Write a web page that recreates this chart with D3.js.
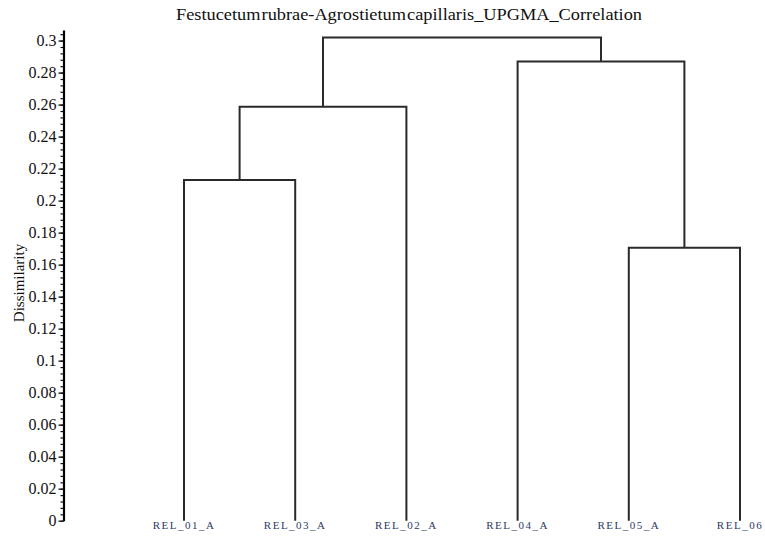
<!DOCTYPE html>
<html>
<head>
<meta charset="utf-8">
<script src="https://cdn.jsdelivr.net/npm/d3@7"></script>
<style>
  html, body { margin: 0; padding: 0; background: #fff; }
  svg { display: block; }
</style>
</head>
<body>
<svg id="chart" width="765" height="538"></svg>
<script>
// Leaves in dendrogram order
const leaves = ["REL_01_A", "REL_03_A", "REL_02_A", "REL_04_A", "REL_05_A", "REL_06"];

// UPGMA merges: node id, the two joined clusters, and the merge height
const mergeIds = ["c1", "c2", "c3", "c4", "c5"];
const mergeLeft = ["REL_01_A", "REL_05_A", "c1", "REL_04_A", "c3"];
const mergeRight = ["REL_03_A", "REL_06", "REL_02_A", "c2", "c4"];
const mergeHeights = [0.2129, 0.1706, 0.2586, 0.2869, 0.3019];

// Axis tick values
const majorTicks = [0, 0.02, 0.04, 0.06, 0.08, 0.1, 0.12, 0.14, 0.16, 0.18, 0.2, 0.22, 0.24, 0.26, 0.28, 0.3];

const title = "Festucetum rubrae-Agrostietum capillaris_UPGMA_Correlation";
const yTitle = "Dissimilarity";

const SERIF = "'Liberation Serif', 'DejaVu Serif', serif";

const svg = d3.select("#chart");

const x = d3.scalePoint().domain(leaves).range([184, 740]);
const y = d3.scaleLinear().domain([0, 0.3066]).range([520.7, 30]);

// Node positions: leaves sit at height 0; each merge sits over the midpoint of its children
const pos = {};
leaves.forEach(l => { pos[l] = { x: x(l), h: 0 }; });
mergeIds.forEach((id, i) => {
  const a = pos[mergeLeft[i]], b = pos[mergeRight[i]];
  pos[id] = { x: (a.x + b.x) / 2, h: mergeHeights[i] };
});

// Title
svg.append("text")
  .attr("x", 176).attr("y", 20)
  .attr("textLength", 466)
  .attr("lengthAdjust", "spacingAndGlyphs")
  .style("font-family", SERIF)
  .style("font-size", "16px")
  .attr("word-spacing", -3)
  .attr("fill", "#111")
  .text(title);

// Y axis with major and minor ticks
const axisG = svg.append("g").attr("transform", "translate(63.5,0)");
axisG.append("g")
  .call(d3.axisLeft(y).tickValues(d3.range(0, 0.3061, 0.004)).tickSize(3).tickFormat(""))
  .call(g => g.select(".domain").remove())
  .call(g => g.selectAll("line").attr("stroke", "#111").attr("stroke-width", 1.2));
axisG.append("g")
  .call(d3.axisLeft(y).tickValues(majorTicks).tickSize(5).tickSizeOuter(0).tickPadding(2)
    .tickFormat(d => String(+d.toFixed(2))))
  .attr("font-family", null)
  .call(g => g.select(".domain").attr("stroke", "#000").attr("stroke-width", 2.2))
  .call(g => g.selectAll("line").attr("stroke", "#111").attr("stroke-width", 1.3))
  .call(g => g.selectAll("text")
    .style("font-family", SERIF)
    .style("font-size", "16px")
    .attr("fill", "#111"));

// Y axis title
svg.append("text")
  .attr("transform", "translate(24,283) rotate(-90)")
  .attr("text-anchor", "middle")
  .style("font-family", SERIF)
  .style("font-size", "15px")
  .attr("fill", "#111")
  .text(yTitle);

// Dendrogram links
const links = svg.append("g")
  .attr("fill", "none")
  .attr("stroke", "#2a2a2a")
  .attr("stroke-width", 2);
mergeIds.forEach((id, i) => {
  const p = pos[id], a = pos[mergeLeft[i]], b = pos[mergeRight[i]];
  const py = y(p.h);
  links.append("path")
    .attr("d", `M${a.x},${y(a.h)}V${py}H${b.x}V${y(b.h)}`);
});

// Leaf labels
svg.append("g")
  .selectAll("text")
  .data(leaves)
  .join("text")
  .attr("x", d => x(d))
  .attr("y", 529)
  .attr("text-anchor", "middle")
  .style("font-family", SERIF)
  .style("font-size", "11px")
  .attr("letter-spacing", 1.5)
  .attr("fill", "#2b3a66")
  .text(d => d);
</script>
</body>
</html>
